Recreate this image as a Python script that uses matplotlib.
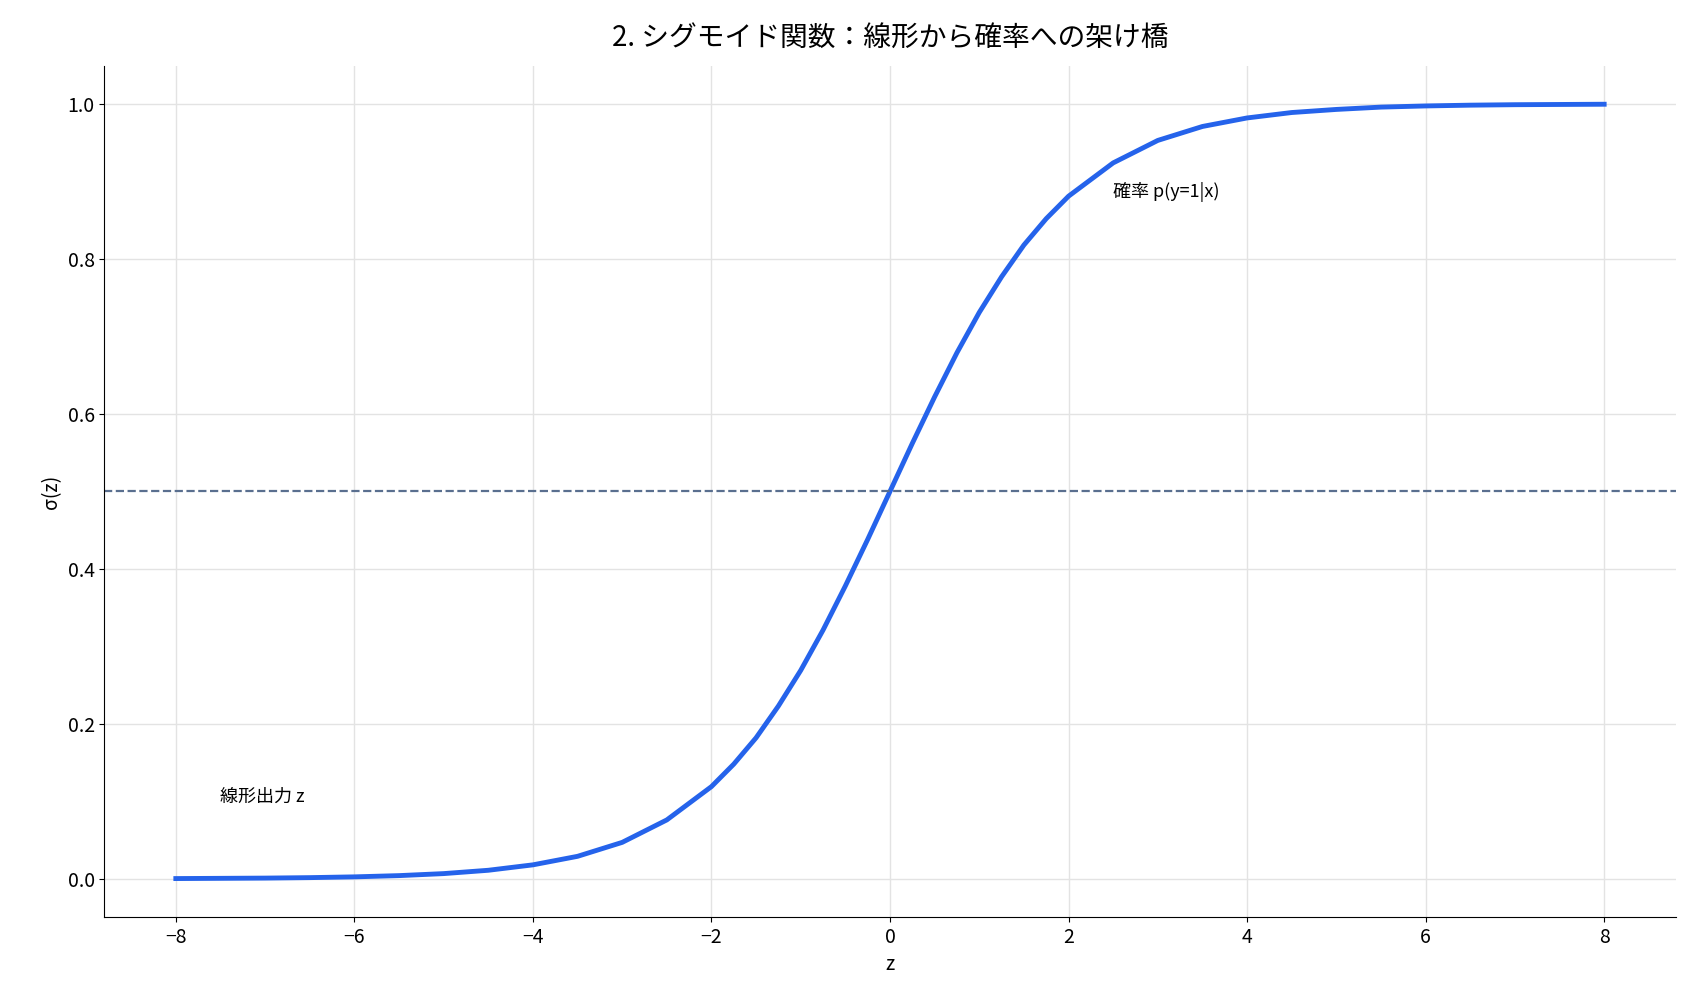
import matplotlib
matplotlib.use("Agg")
import matplotlib.pyplot as plt

plt.rcParams['font.family'] = ['Noto Sans CJK JP', 'DejaVu Sans']

z_vals = [-8, -7.5, -7, -6.5, -6, -5.5, -5, -4.5, -4, -3.5, -3, -2.5, -2, -1.75, -1.5, -1.25, -1, -0.75, -0.5, -0.25,
          0, 0.25, 0.5, 0.75, 1, 1.25, 1.5, 1.75, 2, 2.5, 3, 3.5, 4, 4.5, 5, 5.5, 6, 6.5, 7, 7.5, 8]
sig_vals = [0.0003, 0.0006, 0.0009, 0.0015, 0.0025, 0.0041, 0.0067, 0.011, 0.018, 0.029, 0.047, 0.076, 0.119, 0.148,
            0.182, 0.223, 0.269, 0.321, 0.378, 0.438, 0.5, 0.562, 0.622, 0.679, 0.731, 0.777, 0.818, 0.852, 0.881,
            0.924, 0.953, 0.971, 0.982, 0.989, 0.993, 0.996, 0.9975, 0.9985, 0.9991, 0.9994, 0.9997]
threshold = 0.5
title = "2. シグモイド関数：線形から確率への架け橋"

fig, ax = plt.subplots(figsize=(16.84, 10.08), dpi=100)
fig.subplots_adjust(left=0.062, right=0.995, top=0.935, bottom=0.09)
ax.plot(z_vals, sig_vals, color='#2563eb', lw=3.5)
ax.axhline(threshold, color='#5a6f8f', ls='--', lw=1.6)
ax.grid(True, color='#e3e3e3', lw=1)
ax.set_axisbelow(True)
for s in ['top', 'right']:
    ax.spines[s].set_visible(False)
ax.set_xticks(range(-8, 9, 2))
ax.set_yticks([0, 0.2, 0.4, 0.6, 0.8, 1.0])
ax.tick_params(labelsize=14)
ax.set_xlabel('z', fontsize=14)
ax.set_ylabel('σ(z)', fontsize=14)
ax.set_title(title, fontsize=20, pad=14)
ax.text(-7.5, 0.1, '線形出力 z', fontsize=13)
ax.text(2.5, 0.88, '確率 p(y=1|x)', fontsize=13)
fig.savefig('out.png')
